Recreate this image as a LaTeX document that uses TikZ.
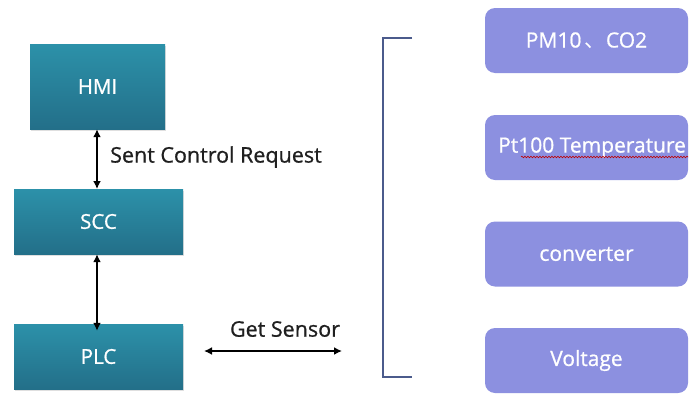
\documentclass[tikz,border=0pt]{standalone}
\usepackage{fontspec}
\setmainfont{Open Sans}
\newfontfamily\medsans{Open Sans}[FakeBold=0.8]
\newfontfamily\cjk{Noto Sans CJK SC}
\usetikzlibrary{arrows.meta,shadows,decorations.pathmorphing}
\definecolor{tealtop}{HTML}{2C91A9}
\definecolor{tealbot}{HTML}{236F89}
\definecolor{lavender}{HTML}{8C90E0}
\definecolor{bracketc}{HTML}{4B5B8C}
\begin{document}
\begin{tikzpicture}[x=1pt,y=-1pt,
  tealbox/.style={draw=none, top color=tealtop, bottom color=tealbot,
    text=white, font=\medsans\fontsize{20.5}{24}\selectfont, inner sep=0pt,
    drop shadow={opacity=0.25, shadow xshift=1pt, shadow yshift=-1.5pt}},
  sensorbox/.style={draw=none, fill=lavender, rounded corners=10pt,
    minimum width=203pt, minimum height=65pt, inner sep=0pt,
    text=white, font=\medsans\fontsize{21}{24}\selectfont},
  lbl/.style={text=black!88, font=\medsans\fontsize{21.5}{24}\selectfont, inner sep=0pt},
  dbl/.style={line width=2pt, {Latex[length=8pt,width=8pt]}-{Latex[length=8pt,width=8pt]}},
  bracketline/.style={draw=bracketc, line width=1.6pt}
]
\useasboundingbox (0,0) rectangle (689,394);
\fill[white] (0,0) rectangle (689,394);

% left column
\node[tealbox, minimum width=135pt, minimum height=85pt] (hmi) at (97.5,86.5) {HMI};
\node[tealbox, minimum width=169pt, minimum height=65pt] (scc) at (98.5,221.5) {SCC};
\node[tealbox, minimum width=169pt, minimum height=65pt] (plc) at (98.5,356.5) {PLC};

\draw[dbl] (hmi.south -| 97,0) -- (97,189);
\draw[dbl] (scc.south -| 97,0) -- ([yshift=-7pt]plc.north -| 97,0);

\node[lbl, anchor=west] (sentlbl) at (110,157) {Sent Control Request};

% get sensor
\coordinate (gsl) at (204,351);
\coordinate (gsr) at (342,351);
\draw[dbl] (gsl) -- (gsr);
\node[lbl] (getlbl) at (285,329) {Get Sensor};

% bracket
\coordinate (bt) at (412,38);
\coordinate (bb) at (412,377);
\draw[bracketline] (bt) -- (383,38) -- (383,377) -- (bb);

% sensor boxes
\node[sensorbox] (pm) at (586.5,40.5) {PM10\,{\cjk 、}CO2};
\node[sensorbox] (pt) at (586.5,147.5) {};
\node[text=white, font=\medsans\fontsize{21}{24}\selectfont, anchor=west, inner sep=0pt] (pttext) at (498,147.5) {Pt100 Temperature};
\node[sensorbox] (conv) at (586.5,254) {converter};
\node[sensorbox] (volt) at (586.5,360.5) {Voltage};

% spell-check squiggle
\draw[red!75!black, line width=0.6pt, decorate,
  decoration={snake, amplitude=0.8pt, segment length=3pt}] (521,157) -- (688,157);
\end{tikzpicture}
\end{document}
